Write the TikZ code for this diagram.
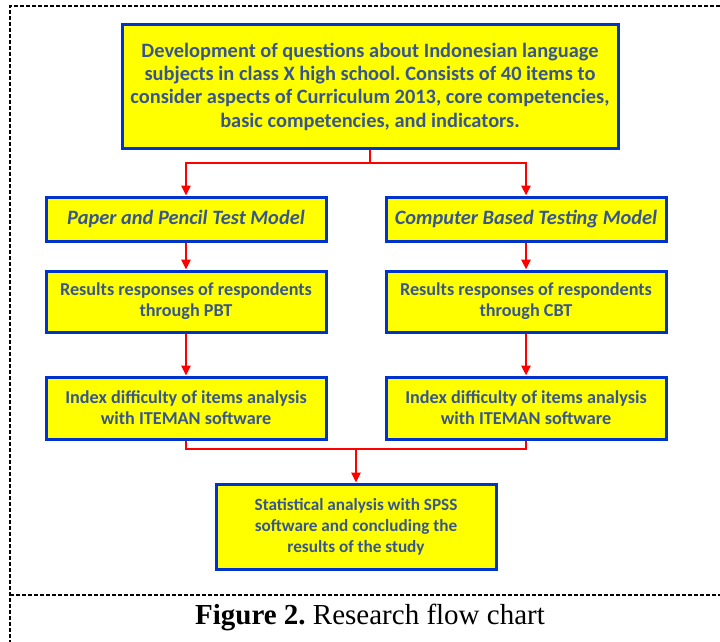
\documentclass[tikz,border=0pt]{standalone}
\usepackage{fontspec}
\setmainfont{Carlito}
\newfontfamily\capfont{Liberation Serif}
\usetikzlibrary{arrows.meta}
\frenchspacing
\definecolor{boxyellow}{RGB}{255,255,0}
\definecolor{boxblue}{RGB}{0,51,204}
\definecolor{txtblue}{RGB}{55,86,145}
\definecolor{arrred}{RGB}{255,0,0}
\tikzset{
  box/.style={draw=boxblue, fill=boxyellow, line width=3pt, align=center,
    text=txtblue, font=\bfseries, inner sep=0pt},
  big/.style={font=\fontsize{20.4}{23.3}\selectfont\bfseries},
  small/.style={font=\fontsize{18.2}{21}\selectfont\bfseries},
  conn/.style={draw=arrred, line width=2.4pt, -{Triangle[length=10pt,width=9pt]}},
  conn0/.style={draw=arrred, line width=2.4pt},
  frame/.style={line width=1.4pt, dash pattern=on 4pt off 2pt}
}
\begin{document}
\begin{tikzpicture}[x=1pt,y=-1pt]
\useasboundingbox (0,0) rectangle (720,642);
% frame
\coordinate (fTL) at (10,6);
\coordinate (fTR) at (720,6);
\coordinate (fBL) at (10,642);
\coordinate (sL) at (10,595);
\coordinate (sR) at (720,595);
\draw[frame] (fTR) -- (fTL) -- (fBL);
\draw[frame] (sL) -- (sR);
% boxes
\node[box, big, minimum width=496pt, minimum height=123pt] (top) at (370,86.5)
  {Development of questions about Indonesian language\\subjects in class X high school. Consists of 40 items to\\consider aspects of Curriculum 2013, core competencies,\\basic competencies, and indicators.};
\node[box, big, minimum width=280pt, minimum height=44pt] (l1) at (186,219)
  {\itshape Paper and Pencil Test Model};
\node[box, big, minimum width=280pt, minimum height=44pt] (r1) at (526,219)
  {\itshape Computer Based Testing Model};
\node[box, small, minimum width=280pt, minimum height=61pt] (l2) at (186,301.5)
  {Results responses of respondents\\through PBT};
\node[box, small, minimum width=280pt, minimum height=61pt] (r2) at (526,301.5)
  {Results responses of respondents\\through CBT};
\node[box, small, minimum width=280pt, minimum height=62pt] (l3) at (186,408)
  {Index difficulty of items analysis\\with ITEMAN software};
\node[box, small, minimum width=280pt, minimum height=62pt] (r3) at (526,408)
  {Index difficulty of items analysis\\with ITEMAN software};
\node[box, font=\fontsize{17.2}{21}\selectfont\bfseries, minimum width=280pt, minimum height=85pt] (bot) at (356,526.5)
  {Statistical analysis with SPSS\\software and concluding the\\results of the study};
% connectors
\coordinate (split) at (370,163);
\coordinate (merge) at (356,449);
\draw[conn0] (top.south) -- (split);
\draw[conn] (split) -| (l1.north);
\draw[conn] (split) -| (r1.north);
\draw[conn] (l1) -- (l2);
\draw[conn] (r1) -- (r2);
\draw[conn] (l2) -- (l3);
\draw[conn] (r2) -- (r3);
\draw[conn0] (l3.south) |- (merge);
\draw[conn0] (r3.south) |- (merge);
\draw[conn] (merge) -- (bot.north);
% caption
\node[font=\capfont\fontsize{29}{32}\selectfont, inner sep=0pt] (cap) at (370,617)
  {\textbf{Figure 2.} Research flow chart};
\end{tikzpicture}
\end{document}
